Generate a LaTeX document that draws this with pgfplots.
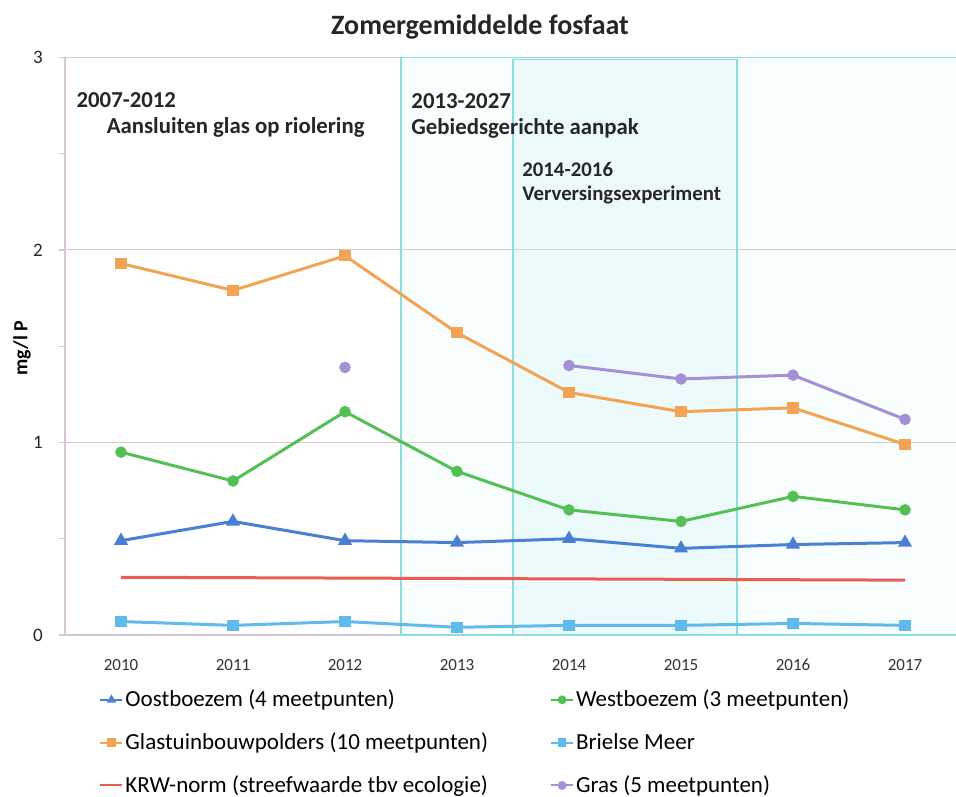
\documentclass[border=0pt]{standalone}
\usepackage{pgfplots}
\pgfplotsset{compat=1.18}
\usepackage{fontspec}
\setmainfont{Carlito}

\definecolor{oost}{RGB}{74,128,212}
\definecolor{west}{RGB}{84,192,84}
\definecolor{glas}{RGB}{242,164,84}
\definecolor{briel}{RGB}{96,186,236}
\definecolor{krw}{RGB}{236,92,82}
\definecolor{gras}{RGB}{164,144,212}
\definecolor{boxline}{RGB}{140,222,222}
\definecolor{boxfill}{RGB}{200,242,246}
\definecolor{gridc}{RGB}{214,200,200}

\begin{document}
\begin{tikzpicture}
\begin{axis}[
    name=ax,
    at={(0pt,0pt)}, anchor=south west,
    scale only axis,
    width=448pt, height=288.75pt,
    xmin=2009.5, xmax=2017.5,
    ymin=0, ymax=3,
    xtick={2010,2011,2012,2013,2014,2015,2016,2017},
    xticklabels={2010,2011,2012,2013,2014,2015,2016,2017},
    minor xtick={2009.5,2010.5,2011.5,2012.5,2013.5,2014.5,2015.5,2016.5,2017.5},
    ytick={0,1,2,3},
    minor ytick={0.5,1.5,2.5},
    axis lines*=left,
    axis line style={gridc, line width=0.6pt},
    tick align=outside,
    x tick style={draw=none},
    minor x tick style={gridc, line width=0.6pt},
    y tick style={gridc, line width=0.6pt},
    minor tick length=3pt, major tick length=3pt,
    ymajorgrids, major grid style={gridc, line width=0.5pt},
    xticklabel style={font=\fontsize{8.5}{10}\selectfont, color=black!80, yshift=-5pt},
    yticklabel style={font=\fontsize{9.5}{11}\selectfont, color=black!85, xshift=-4pt},
    /pgf/number format/assume math mode=true,
    unbounded coords=jump,
    line width=1.5pt,
    legend columns=2,
    legend cell align=left,
    legend style={draw=none, fill=none, inner sep=0pt,
        at={(axis description cs:0.0368,-0.089)}, anchor=north west,
        font=\fontsize{11.5}{13}\selectfont, row sep=9.5pt,
        nodes={inner sep=1pt},
        /tikz/every even column/.append style={column sep=30pt}},
    legend image code/.code={
        \draw[mark repeat=2,mark phase=2,#1,line width=1pt,mark size=1.7pt]
            plot coordinates {(0pt,0pt) (5.5pt,0pt) (11pt,0pt)};},
]
% periods
\draw[boxline, line width=0.8pt, fill=boxfill, fill opacity=0.13]
    (axis cs:2012.5,0) rectangle (axis cs:2017.5,3);
\draw[boxline, line width=0.8pt, fill=boxfill, fill opacity=0.25]
    (axis cs:2013.5,0) rectangle (axis cs:2015.5,2.99);

\addplot[oost, mark=triangle*, mark size=2.6pt] coordinates {
    (2010,0.49) (2011,0.59) (2012,0.49) (2013,0.48) (2014,0.50) (2015,0.45) (2016,0.47) (2017,0.48)};
\addlegendentry{Oostboezem (4 meetpunten)}
\addplot[west, mark=*, mark size=2.1pt] coordinates {
    (2010,0.95) (2011,0.80) (2012,1.16) (2013,0.85) (2014,0.65) (2015,0.59) (2016,0.72) (2017,0.65)};
\addlegendentry{Westboezem (3 meetpunten)}
\addplot[glas, mark=square*, mark size=2.1pt] coordinates {
    (2010,1.93) (2011,1.79) (2012,1.97) (2013,1.57) (2014,1.26) (2015,1.16) (2016,1.18) (2017,0.99)};
\addlegendentry{Glastuinbouwpolders (10 meetpunten)}
\addplot[briel, mark=square*, mark size=2.1pt] coordinates {
    (2010,0.07) (2011,0.05) (2012,0.07) (2013,0.04) (2014,0.05) (2015,0.05) (2016,0.06) (2017,0.05)};
\addlegendentry{Brielse Meer}
\addplot[krw, no marks] coordinates {(2010,0.30) (2017,0.285)};
\addlegendentry{KRW-norm (streefwaarde tbv ecologie)}
\addplot[gras, mark=*, mark size=2.1pt] coordinates {
    (2012,1.39) (2013,nan) (2014,1.40) (2015,1.33) (2016,1.35) (2017,1.12)};
\addlegendentry{Gras (5 meetpunten)}

\tikzset{ann/.style={font=\bfseries\fontsize{11.4}{13}\selectfont, anchor=west, inner sep=0pt, color=black!85}}
\node[ann] at (axis cs:2009.59,2.78) {2007-2012};
\node[ann] at (axis cs:2009.86,2.635) {Aansluiten glas op riolering};
\node[ann] at (axis cs:2012.58,2.775) {2013-2027};
\node[ann] at (axis cs:2012.58,2.63) {Gebiedsgerichte aanpak};
\node[ann, font=\bfseries\fontsize{10.4}{12}\selectfont] at (axis cs:2013.57,2.42) {2014-2016};
\node[ann, font=\bfseries\fontsize{10.4}{12}\selectfont] at (axis cs:2013.57,2.285) {Verversingsexperiment};
\end{axis}
\node[font=\bfseries\fontsize{14}{16}\selectfont, color=black!85] at (207.5pt,304pt) {Zomergemiddelde fosfaat};
\node[font=\bfseries\fontsize{10}{12}\selectfont, rotate=90] at (-21.5pt,143.5pt) {mg/l P};
\pgfresetboundingbox
\path[use as bounding box] (-32.5pt,-80.5pt) rectangle (445.5pt,317.5pt);
\end{tikzpicture}
\end{document}
